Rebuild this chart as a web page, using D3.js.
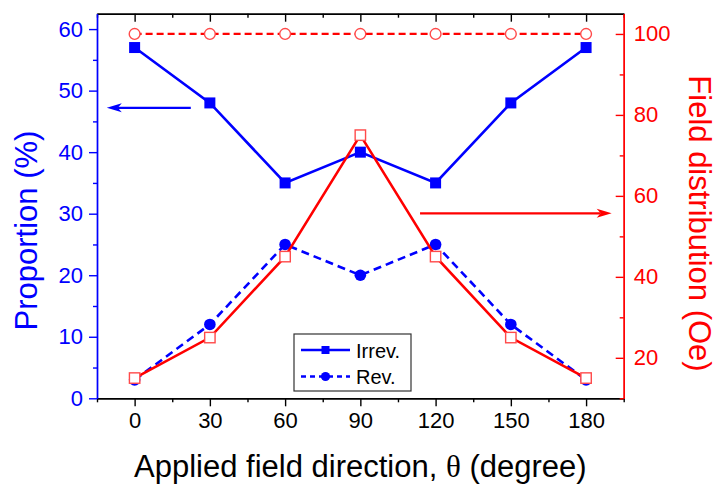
<!DOCTYPE html>
<html>
<head>
<meta charset="utf-8">
<script src="https://cdn.jsdelivr.net/npm/d3@7"></script>
<style>
  html, body { margin: 0; padding: 0; background: #fff; }
  svg { display: block; font-family: "Liberation Sans", Arial, sans-serif; }
</style>
</head>
<body>
<svg id="chart" width="716" height="485"></svg>
<script>
// Field direction (degrees)
const angles = [0, 30, 60, 90, 120, 150, 180];
// Proportion (%) – left axis
const irrev = [57, 48, 35, 40, 35, 48, 57];
const rev = [3, 12, 25, 20, 25, 12, 3];
// Field distribution (Oe) – right axis
const fieldLow = [15, 25, 45, 75, 45, 25, 15];
const fieldHigh = [100, 100, 100, 100, 100, 100, 100];

// Tick values
const xTicks = [0, 30, 60, 90, 120, 150, 180];
const xMinor = [-15, 15, 45, 75, 105, 135, 165, 195];
const leftTicks = [0, 10, 20, 30, 40, 50, 60];
const leftMinor = [5, 15, 25, 35, 45, 55];
const rightTicks = [20, 40, 60, 80, 100];
const rightMinor = [10, 30, 50, 70, 90];

// Pointer arrows: [x0 (deg), x1 (deg), y] ; blue on left scale, red on right scale
const blueArrow = [22.4, -11.1, 47.2];
const redArrow = [113.8, 190.2, 55.7];

const legendItems = ["Irrev.", "Rev."];

const BLUE = "#0000ff", RED = "#ff0000", PINK = "#ff4a4a";

const svg = d3.select("#chart");
const m = { left: 97, right: 92.3, top: 13.7, bottom: 86.7 };
const W = 716, H = 485;
const x0 = m.left, x1 = W - m.right, y0 = H - m.bottom, y1 = m.top;

const x = d3.scaleLinear().domain([-15, 195]).range([x0, x1]);
const yL = d3.scaleLinear().domain([0, 62.5]).range([y0, y1]);
const yR = d3.scaleLinear().domain([10, 105]).range([y0, y1]);

const tickFont = 22;

function styleAxis(g, color, fontSize) {
  g.selectAll("path.domain").attr("stroke", color).attr("stroke-width", 1.4);
  g.selectAll(".tick line").attr("stroke", color).attr("stroke-width", 1.4);
  g.selectAll(".tick text").attr("fill", color)
    .style("font-size", fontSize + "px")
    .style("font-family", "'Liberation Sans', Arial, sans-serif");
}

// ---- data lines ----
const plot = svg.append("g");

const lineL = (vals) => d3.line().x((d, i) => x(angles[i])).y(d => yL(d))(vals);
const lineR = (vals) => d3.line().x((d, i) => x(angles[i])).y(d => yR(d))(vals);

plot.append("path").attr("d", lineL(irrev)).attr("fill", "none")
  .attr("stroke", BLUE).attr("stroke-width", 2.6);
plot.append("path").attr("d", lineL(rev)).attr("fill", "none")
  .attr("stroke", BLUE).attr("stroke-width", 2.6).attr("stroke-dasharray", "8,5");

plot.selectAll(".irrevPt").data(irrev).enter().append("rect")
  .attr("x", (d, i) => x(angles[i]) - 5.5).attr("y", d => yL(d) - 5.5)
  .attr("width", 11).attr("height", 11).attr("fill", BLUE);
plot.selectAll(".revPt").data(rev).enter().append("circle")
  .attr("cx", (d, i) => x(angles[i])).attr("cy", d => yL(d))
  .attr("r", 5.8).attr("fill", BLUE);

plot.append("path").attr("d", lineR(fieldLow)).attr("fill", "none")
  .attr("stroke", RED).attr("stroke-width", 2.6);
plot.append("path").attr("d", lineR(fieldHigh)).attr("fill", "none")
  .attr("stroke", RED).attr("stroke-width", 2.2).attr("stroke-dasharray", "7,4");

plot.selectAll(".lowPt").data(fieldLow).enter().append("rect")
  .attr("x", (d, i) => x(angles[i]) - 5.2).attr("y", d => yR(d) - 5.2)
  .attr("width", 10.4).attr("height", 10.4)
  .attr("fill", "#fff").attr("stroke", PINK).attr("stroke-width", 1.4);
plot.selectAll(".highPt").data(fieldHigh).enter().append("circle")
  .attr("cx", (d, i) => x(angles[i])).attr("cy", d => yR(d))
  .attr("r", 5.4).attr("fill", "#fff").attr("stroke", PINK).attr("stroke-width", 1.4);

// ---- arrows ----
function arrow(a, yScale, color) {
  const xa = x(a[0]), xb = x(a[1]), yy = yScale(a[2]);
  const dir = Math.sign(xb - xa);
  const L = 15, hw = 4.5, notch = 11;
  plot.append("line").attr("x1", xa).attr("y1", yy).attr("x2", xb - dir * notch).attr("y2", yy)
    .attr("stroke", color).attr("stroke-width", 2.2);
  plot.append("path")
    .attr("d", `M${xb},${yy} L${xb - dir * L},${yy - hw} L${xb - dir * notch},${yy} L${xb - dir * L},${yy + hw} Z`)
    .attr("fill", color);
}
arrow(blueArrow, yL, BLUE);
arrow(redArrow, yR, RED);

// ---- axes ----
// bottom
const gB = svg.append("g").attr("transform", `translate(0,${y0})`)
  .call(d3.axisBottom(x).tickValues(xTicks).tickSize(8).tickPadding(6).tickSizeOuter(0));
styleAxis(gB, "#000", tickFont);
const gBm = svg.append("g").attr("transform", `translate(0,${y0})`)
  .call(d3.axisBottom(x).tickValues(xMinor).tickSize(4).tickFormat("").tickSizeOuter(0));
styleAxis(gBm, "#000", tickFont);

// top
const gT = svg.append("g").attr("transform", `translate(0,${y1})`)
  .call(d3.axisTop(x).tickValues(xTicks).tickSize(-8).tickFormat("").tickSizeOuter(0));
styleAxis(gT, "#000", tickFont);
const gTm = svg.append("g").attr("transform", `translate(0,${y1})`)
  .call(d3.axisTop(x).tickValues(xMinor).tickSize(-4).tickFormat("").tickSizeOuter(0));
styleAxis(gTm, "#000", tickFont);

// left
const gL = svg.append("g").attr("transform", `translate(${x0},0)`)
  .call(d3.axisLeft(yL).tickValues(leftTicks).tickSize(8).tickPadding(6).tickSizeOuter(0));
styleAxis(gL, BLUE, tickFont);
const gLm = svg.append("g").attr("transform", `translate(${x0},0)`)
  .call(d3.axisLeft(yL).tickValues(leftMinor).tickSize(4).tickFormat("").tickSizeOuter(0));
styleAxis(gLm, BLUE, tickFont);

// right
const gR = svg.append("g").attr("transform", `translate(${x1},0)`)
  .call(d3.axisRight(yR).tickValues(rightTicks).tickSize(-8).tickPadding(10).tickSizeOuter(0));
styleAxis(gR, RED, tickFont);
const gRm = svg.append("g").attr("transform", `translate(${x1},0)`)
  .call(d3.axisRight(yR).tickValues(rightMinor).tickSize(-4).tickFormat("").tickSizeOuter(0));
styleAxis(gRm, RED, tickFont);

// ---- axis titles ----
svg.append("text")
  .attr("transform", `translate(37,${(128 + 333) / 2}) rotate(-90)`)
  .attr("text-anchor", "middle").attr("fill", BLUE)
  .style("font-size", "31px").text("Proportion (%)");

svg.append("text")
  .attr("transform", `translate(689,${(75 + 372) / 2}) rotate(90)`)
  .attr("text-anchor", "middle").attr("fill", RED)
  .style("font-size", "31px").text("Field distribution (Oe)");

const xt = svg.append("text")
  .attr("x", (x0 + x1) / 2 - 0).attr("y", 477)
  .attr("text-anchor", "middle").attr("fill", "#000")
  .style("font-size", "31px");
xt.append("tspan").text("Applied field direction, ");
xt.append("tspan").style("font-family", "'Liberation Serif', 'DejaVu Serif', serif").text("θ");
xt.append("tspan").text(" (degree)");

// ---- legend ----
const lg = svg.append("g").attr("transform", "translate(294,334)");
lg.append("rect").attr("width", 117).attr("height", 57)
  .attr("fill", "#fff").attr("stroke", "#333").attr("stroke-width", 1.2);
legendItems.forEach((name, i) => {
  const yy = 16 + i * 26.5;
  const g = lg.append("g").attr("transform", `translate(0,${yy})`);
  g.append("line").attr("x1", 7).attr("x2", 56).attr("y1", 0).attr("y2", 0)
    .attr("stroke", BLUE).attr("stroke-width", 2.6)
    .attr("stroke-dasharray", i === 0 ? null : "5,4");
  if (i === 0) {
    g.append("rect").attr("x", 31.5 - 4).attr("y", -4).attr("width", 8).attr("height", 8).attr("fill", BLUE);
  } else {
    g.append("circle").attr("cx", 31.5).attr("cy", 0).attr("r", 4.6).attr("fill", BLUE);
  }
  g.append("text").attr("x", 62).attr("y", 7.5).attr("fill", "#000")
    .style("font-size", "20px").text(name);
});
</script>
</body>
</html>
